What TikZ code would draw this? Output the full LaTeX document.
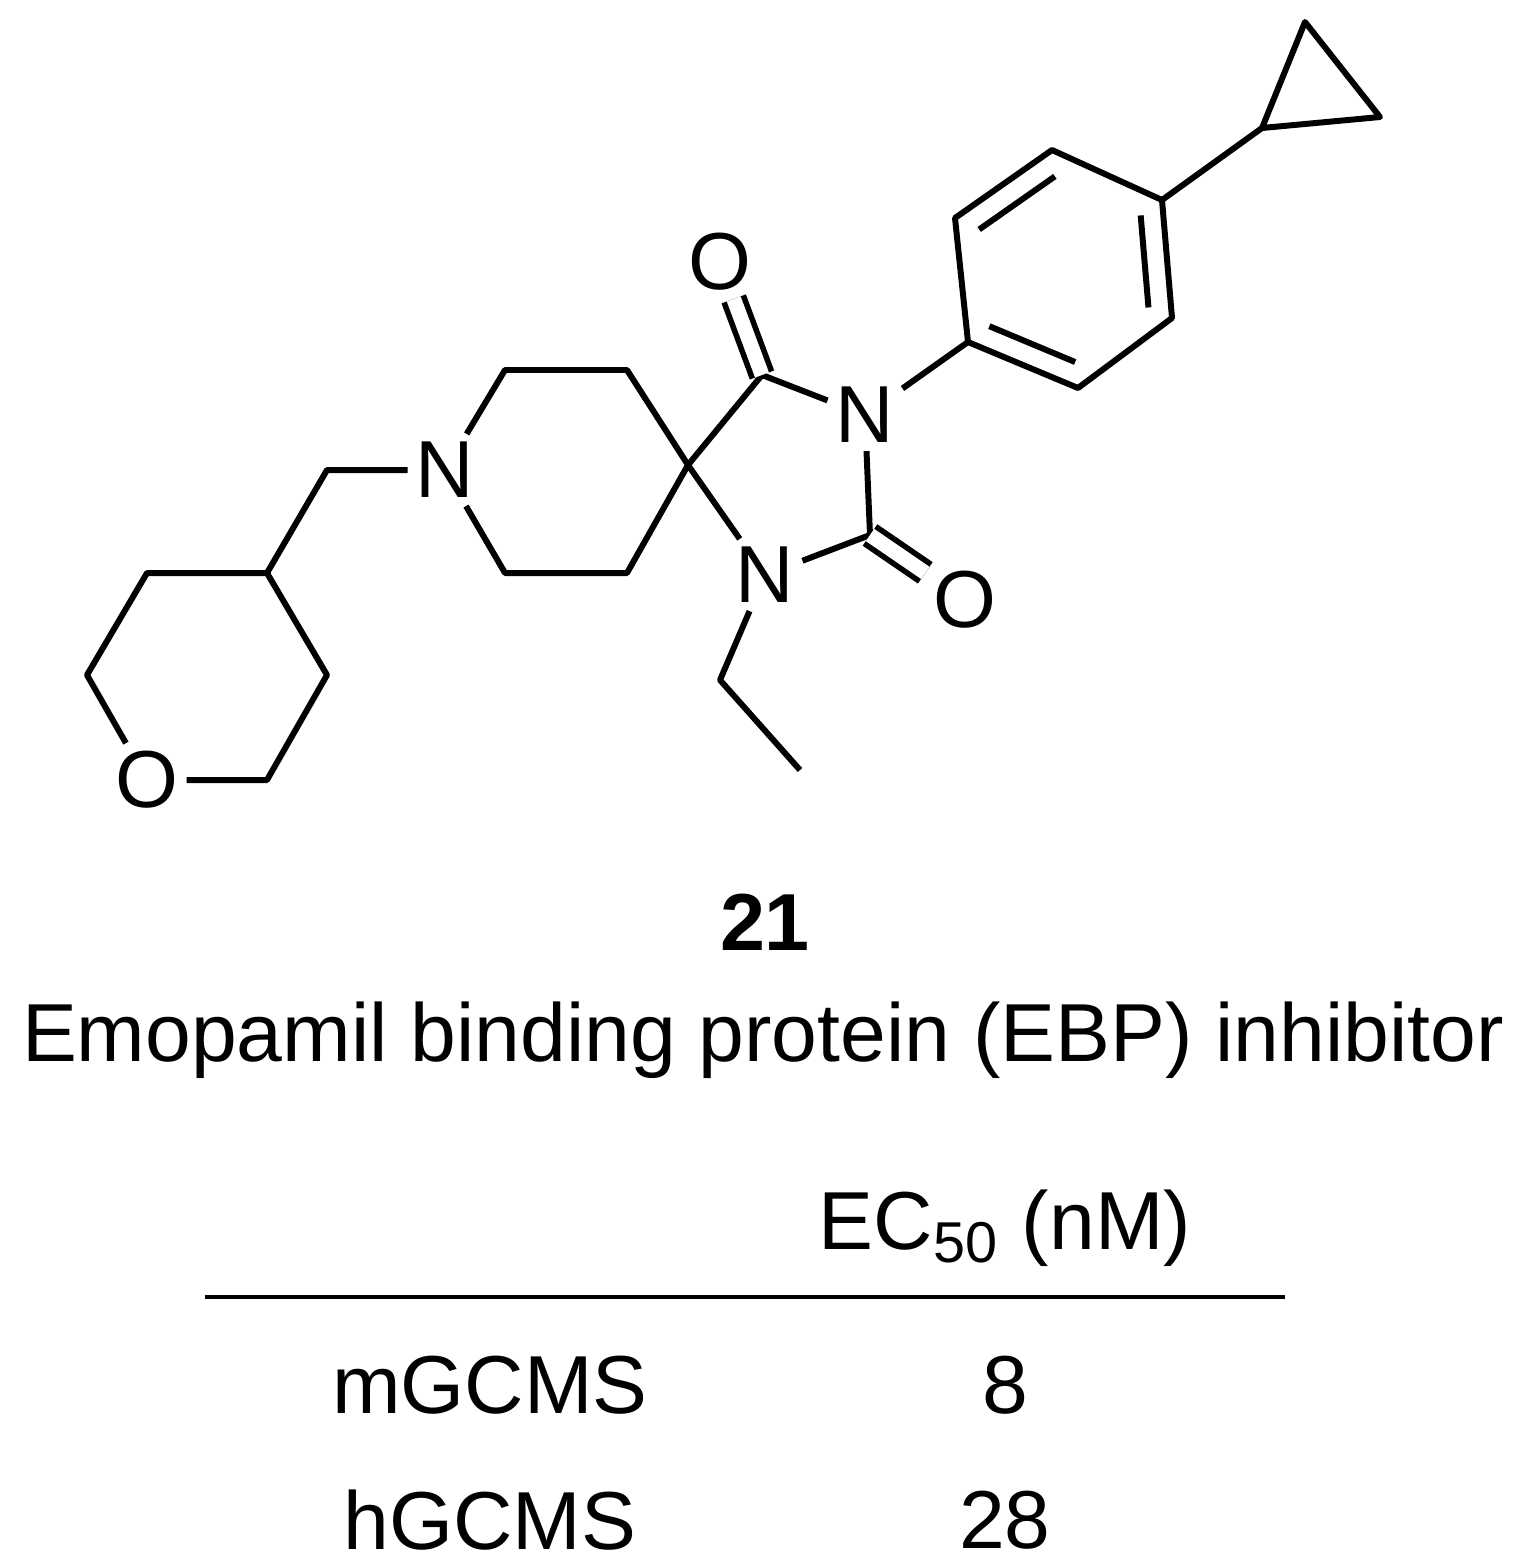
\documentclass[tikz,border=0pt]{standalone}
\usepackage{fontspec}
\setmainfont{Liberation Sans}
\usetikzlibrary{calc}
\begin{document}
\begin{tikzpicture}[
			x=0.01cm, y=-0.01cm,
			line width=1.7pt,
			line join=round,
			atom/.style={inner sep=1.5pt, font=\fontsize{23}{27}\selectfont},
			label/.style={font=\fontsize{23.4}{27}\selectfont},
			dbl/.style={double, double distance=4.2pt, line width=1.6pt}
		]
		\useasboundingbox (0,0) rectangle (1527,1566);
		% cyclopropyl
		\coordinate (cpa) at (1305,22);
		\coordinate (cpb) at (1380,117);
		\coordinate (cpc) at (1262,128);
		% phenyl
		\coordinate (ph1) at (1162,200);
		\coordinate (ph2) at (1052,150);
		\coordinate (ph3) at (955,218);
		\coordinate (ph4) at (968,342);
		\coordinate (ph5) at (1078,388);
		\coordinate (ph6) at (1172,318);
		\coordinate (phc) at (1065,270);
		% hydantoin
		\node[atom] (n3) at (865,415) {N};
		\coordinate (c4) at (762,375);
		\node[atom] (o4) at (720,262) {O};
		\coordinate (spiro) at (688,465);
		\node[atom] (n1) at (765,575) {N};
		\coordinate (c2) at (870,535);
		\node[atom] (o2) at (965,600) {O};
		% piperidine
		\coordinate (pp1) at (627,370);
		\coordinate (pp2) at (505,370);
		\node[atom] (n8) at (445,470) {N};
		\coordinate (pp4) at (505,573);
		\coordinate (pp5) at (627,573);
		% CH2 and oxane
		\coordinate (ch2) at (327,470);
		\coordinate (ox1) at (267,573);
		\coordinate (ox2) at (147,573);
		\coordinate (ox3) at (87,675);
		\node[atom] (o1) at (147,780) {O};
		\coordinate (ox5) at (267,780);
		\coordinate (ox6) at (327,675);
		% ethyl
		\coordinate (et1) at (720,680);
		\coordinate (et2) at (800,770);

		\draw (cpa) -- (cpb) -- (cpc) -- cycle;
		\draw (cpc) -- (ph1);
		\draw (ph1) -- (ph2) -- (ph3) -- (ph4) -- (ph5) -- (ph6) -- cycle;
		\draw ($(phc)!0.78!(ph2)$) -- ($(phc)!0.78!(ph3)$);
		\draw ($(phc)!0.78!(ph4)$) -- ($(phc)!0.78!(ph5)$);
		\draw ($(phc)!0.78!(ph6)$) -- ($(phc)!0.78!(ph1)$);
		\draw (ph4) -- (n3);
		\draw (n3) -- (c4) -- (spiro) -- (n1) -- (c2) -- (n3);
		\draw[dbl] (c4) -- (o4);
		\draw[dbl] (c2) -- (o2);
		\draw (spiro) -- (pp1) -- (pp2) -- (n8) -- (pp4) -- (pp5) -- (spiro);
		\draw (n8) -- (ch2) -- (ox1);
		\draw (ox1) -- (ox2) -- (ox3) -- (o1) -- (ox5) -- (ox6) -- (ox1);
		\draw (n1) -- (et1) -- (et2);

		\node[label, font=\fontsize{23}{27}\selectfont\bfseries] (num) at (765,922) {21};
		\node[label] (title) at (763,1040) {Emopamil binding protein (EBP) inhibitor};
		\node[label] (ec) at (1005,1228) {EC\textsubscript{50} (nM)};
		\coordinate (rulel) at (205,1297);
		\coordinate (ruler) at (1285,1297);
		\draw[line width=1.3pt] (rulel) -- (ruler);
		\node[label] (m) at (490,1385) {mGCMS};
		\node[label] (mv) at (1005,1385) {8};
		\node[label] (h) at (490,1520) {hGCMS};
		\node[label] (hv) at (1005,1520) {28};
	\end{tikzpicture}
\end{document}
